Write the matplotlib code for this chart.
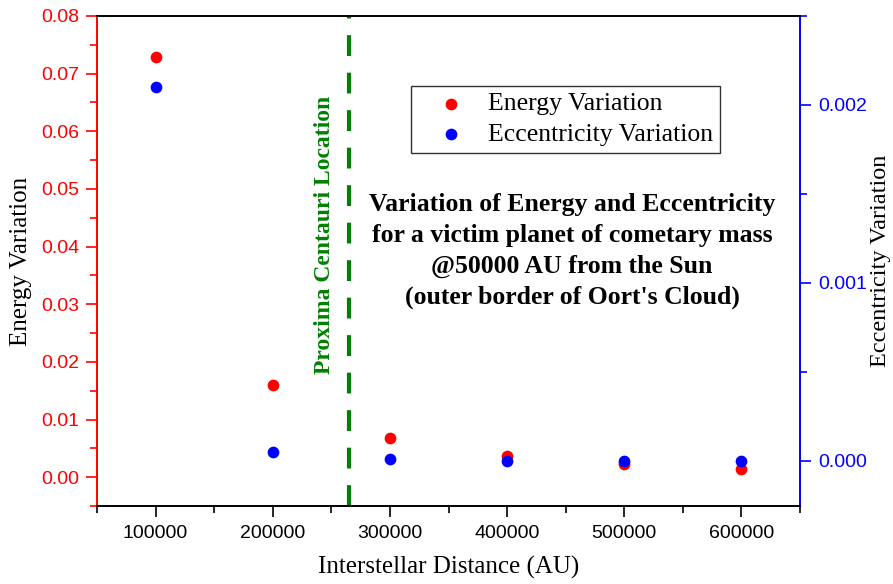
# -------------------------------------------------------------------------------------
# Libraries
import matplotlib
matplotlib.use('Agg')
import matplotlib.pyplot as plt
from matplotlib.ticker import MultipleLocator
# -------------------------------------------------------------------------------------

# -------------------------------------------------------------------------------------
# Data
distance = [100000, 200000, 300000, 400000, 500000, 600000]
energy_var = [0.0729, 0.0160, 0.0068, 0.0036, 0.0023, 0.0014]
ecc_var = [0.00210, 0.00005, 0.00001, 0.0, 0.0, 0.0]
proxima_au = 265000
note_lines = ["Variation of Energy and Eccentricity",
              "for a victim planet of cometary mass",
              "@50000 AU from the Sun",
              "(outer border of Oort's Cloud)"]
# -------------------------------------------------------------------------------------

serif = 'Liberation Serif'
sans = 'Liberation Sans'

fig = plt.figure(figsize=(8.93, 5.84), dpi=100)
ax = fig.add_axes([97 / 893, 1 - 506 / 584, (800 - 97) / 893, (506 - 16) / 584])
ax2 = ax.twinx()

# energy on the left axis
h1 = ax.scatter(distance, energy_var, s=55, color='red', zorder=3, label='Energy Variation')
# eccentricity on the right axis
h2 = ax2.scatter(distance, ecc_var, s=55, color='blue', zorder=3, label='Eccentricity Variation')

ax.axvline(proxima_au, color='green', lw=3, ls=(0, (5, 4)), zorder=2)

ax.set_xlim(50000, 650000)
ax.set_ylim(-0.005, 0.08)
ax2.set_ylim(-0.000253, 0.0025)

ax.xaxis.set_major_locator(MultipleLocator(100000))
ax.xaxis.set_minor_locator(MultipleLocator(50000))
ax.yaxis.set_major_locator(MultipleLocator(0.01))
ax.yaxis.set_minor_locator(MultipleLocator(0.005))
ax2.yaxis.set_major_locator(MultipleLocator(0.001))
ax2.yaxis.set_minor_locator(MultipleLocator(0.0005))
ax.yaxis.set_major_formatter(plt.FuncFormatter(lambda v, p: '%.2f' % v))
ax2.yaxis.set_major_formatter(plt.FuncFormatter(lambda v, p: '%.3f' % v))

# spines and ticks
for a in (ax, ax2):
    for s in a.spines.values():
        s.set_linewidth(1.2)
ax2.spines['left'].set_color('red')
ax2.spines['right'].set_color('blue')
ax2.spines['top'].set_color('black')
ax.spines['left'].set_color('red')
ax.spines['right'].set_color('blue')

tick_size = 14
ax.tick_params(axis='y', which='both', colors='red', direction='out')
ax.tick_params(axis='y', which='major', length=8, width=1.2, labelsize=tick_size, pad=5)
ax.tick_params(axis='y', which='minor', length=5, width=1.2)
ax2.tick_params(axis='y', which='both', colors='blue', direction='out')
ax2.tick_params(axis='y', which='major', length=8, width=1.2, labelsize=tick_size, pad=5)
ax2.tick_params(axis='y', which='minor', length=5, width=1.2)
ax.tick_params(axis='x', which='major', length=8, width=1.2, labelsize=tick_size, pad=6, direction='out')
ax.tick_params(axis='x', which='minor', length=5, width=1.2, direction='out')

for lbl in ax.get_xticklabels() + ax.get_yticklabels() + ax2.get_yticklabels():
    lbl.set_fontfamily(sans)

ax.set_xlabel('Interstellar Distance (AU)', fontfamily=serif, fontsize=18, labelpad=10)
ax.set_ylabel('Energy Variation', fontfamily=serif, fontsize=18, labelpad=6)
ax2.set_ylabel('Eccentricity Variation', fontfamily=serif, fontsize=17.5, labelpad=2)

leg = ax2.legend(handles=[h1, h2], loc='upper left', bbox_to_anchor=((411 - 97) / 703, 1 - (86 - 16) / 490),
                 prop={'family': serif, 'size': 18.5}, frameon=True, fancybox=False,
                 edgecolor='black', handletextpad=0.15, borderpad=0.25, labelspacing=0.3,
                 handlelength=2.6, borderaxespad=0, scatterpoints=1)
leg.get_frame().set_linewidth(1.0)

fig.text(325 / 893, 1 - 235 / 584, 'Proxima Centauri Location', rotation=90, color='green',
         fontfamily=serif, fontweight='bold', fontsize=17, ha='center', va='center')
fig.text(572 / 893, 1 - 251 / 584, '\n'.join(note_lines), fontfamily=serif, fontweight='bold',
         fontsize=18.5, ha='center', va='center', linespacing=1.45)

fig.savefig('out.png', dpi=100)
